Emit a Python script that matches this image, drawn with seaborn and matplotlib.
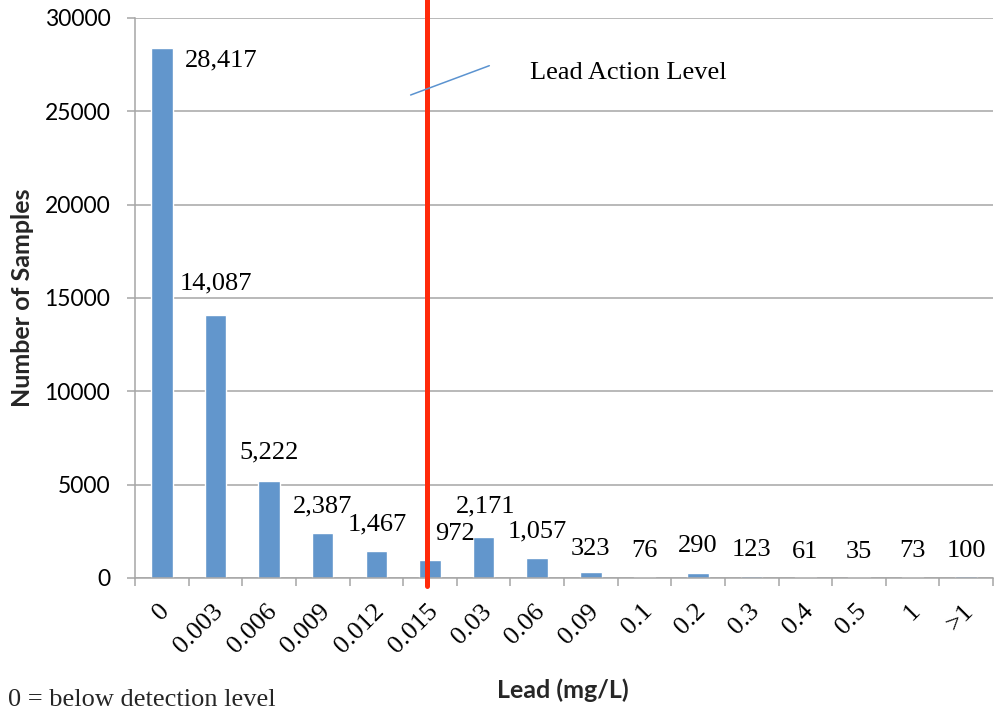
import matplotlib
matplotlib.use("Agg")
import matplotlib.pyplot as plt
import matplotlib.transforms as mtransforms
import seaborn as sns
import pandas as pd
import numpy as np

# ---- data ----
categories = ["0", "0.003", "0.006", "0.009", "0.012", "0.015", "0.03", "0.06",
              "0.09", "0.1", "0.2", "0.3", "0.4", "0.5", "1", ">1"]
counts = [28417, 14087, 5222, 2387, 1467, 972, 2171, 1057,
          323, 76, 290, 123, 61, 35, 73, 100]
y_ticks = [0, 5000, 10000, 15000, 20000, 25000, 30000]
action_level_category = "0.015"

# label placement tweaks (pixels: dx, baseline above bar top)
label_dx = [59, 0, 0, 0, 1, 25, 2, 0, 0, 0, 0, 0, 0, 0, 0, 0]
label_dy = [-18.5, 26, 22, 20.5, 20.5, 20, 25.5, 20.5, 17, 20, 20.5, 20, 19, 19, 19.5, 19]

BAR = "#6296CC"
GRID = "#A6A6A6"
RED = "#FF2A0A"
SERIF = ["Liberation Serif", "DejaVu Serif"]
SANS = ["Lato", "DejaVu Sans"]

sns.set_theme(style="white")
plt.rcParams["font.family"] = SERIF

fig = plt.figure(figsize=(9.96, 7.12), dpi=100)
W, H = 996, 712
ax = fig.add_axes([135 / W, 134 / H, 858 / W, 560 / H])

df = pd.DataFrame({"Lead": categories, "Samples": counts})
sns.barplot(data=df, x="Lead", y="Samples", order=categories, color=BAR,
            saturation=1, width=0.4, ax=ax, zorder=2)

ax.set_xlim(-0.5, len(categories) - 0.5)
ax.set_ylim(0, 30000)
ax.set_axisbelow(True)
ax.set_xlabel("")
ax.set_ylabel("")

# spines
for s in ["top", "right"]:
    ax.spines[s].set_visible(False)
for s in ["left", "bottom"]:
    ax.spines[s].set_color(GRID)
    ax.spines[s].set_linewidth(1.1)

# y axis
ax.set_yticks(y_ticks)
ax.set_yticklabels([str(t) for t in y_ticks])
ax.yaxis.grid(True, color=GRID, linewidth=1.1)
ax.xaxis.grid(False)
ax.tick_params(axis="y", which="major", left=True, length=8 * 0.72, width=1.1,
               color=GRID, pad=16.7 * 0.72, labelsize=16.5, labelcolor="black")
for lab in ax.get_yticklabels():
    lab.set_fontfamily(SANS)

# x axis
ax.set_xticks(range(len(categories)))
ax.set_xticklabels(categories)
ax.set_xticks(np.arange(-0.5, len(categories), 1.0), minor=True)
ax.tick_params(axis="x", which="major", bottom=True, length=0, pad=24.5,
               labelsize=19, labelcolor="black")
ax.tick_params(axis="x", which="minor", bottom=True, length=8 * 0.72,
               width=1.1, color=GRID)
shift = mtransforms.ScaledTranslation(8.5 / 100, 0, fig.dpi_scale_trans)
for lab in ax.get_xticklabels():
    lab.set_rotation(45)
    lab.set_ha("right")
    lab.set_va("baseline")
    lab.set_rotation_mode("anchor")
    lab.set_fontfamily(SERIF)
    lab.set_transform(lab.get_transform() + shift)

# data labels
for i, v in enumerate(counts):
    ax.annotate(f"{v:,}", xy=(i, v), xytext=(label_dx[i], label_dy[i]),
                textcoords="offset pixels", ha="center", va="baseline",
                fontsize=19, family=SERIF, color="black", zorder=5)

# action level line
xi = categories.index(action_level_category) - 0.055
ax.axvline(xi, ymin=-8 / 560, ymax=1 + 20 / 560, color=RED, linewidth=5 * 0.72,
           clip_on=False, zorder=4)

# annotation pointer + text
ax.plot([categories.index(action_level_category) - 0.36,
         categories.index(action_level_category) + 1.107],
        [25875, 27445], color="#5B93D0", linewidth=1.1, zorder=4)
ax.text(categories.index(action_level_category) + 1.866, 26732, "Lead Action Level",
        fontsize=19, family=SERIF, ha="left", va="baseline", color="black")

# axis titles and footnote
fig.text(22 / W, 1 - 298 / H, "Number of Samples", rotation=90, ha="center",
         va="center", fontsize=18, fontweight="bold", family=SANS)
fig.text(563 / W, 1 - 690 / H, "Lead (mg/L)", ha="center", va="center",
         fontsize=18, fontweight="bold", family=SANS)
fig.text(8 / W, 1 - 706 / H, "0 = below detection level", ha="left",
         va="baseline", fontsize=19, family=SERIF)

fig.savefig("out.png", dpi=100)
